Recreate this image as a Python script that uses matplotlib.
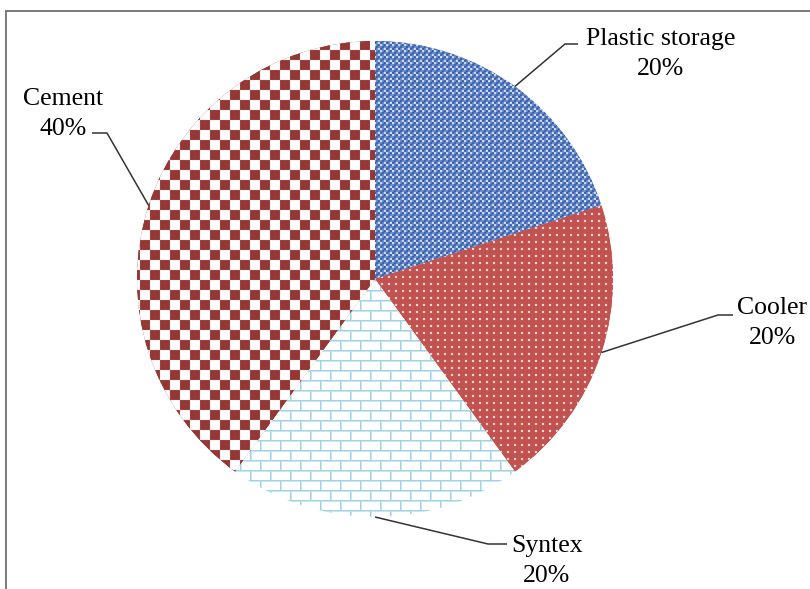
import numpy as np
import matplotlib
matplotlib.use("Agg")
import matplotlib.pyplot as plt

# Share of each product (percent), clockwise from 12 o'clock
labels = ["Plastic storage", "Cooler", "Syntex", "Cement"]
shares = [20, 20, 20, 40]

W, H = 810, 589
CX, CY, R = 375, H - 279, 238

fig = plt.figure(figsize=(W / 100, H / 100), dpi=100)
ax = fig.add_axes([0, 0, 1, 1])

base_colors = ["#6f8fc6", "#c0504d", "#ffffff", "#953735"]
wedges, _ = ax.pie(shares, startangle=90, counterclock=False,
                   center=(CX, CY), radius=R, colors=base_colors,
                   wedgeprops=dict(linewidth=0))
ax.set_xlim(0, W)
ax.set_ylim(0, H)
ax.set_aspect("equal")
ax.axis("off")

# pixel grid (row 0 at the top)
yy, xx = np.mgrid[0:H, 0:W]


def rgb(*c):
    return np.array(c, dtype=float) / 255.0


def soften(img, k=0.5):
    # light 3x3 smoothing so fine patterns look printed rather than pixelated
    p = np.pad(img, ((1, 1), (1, 1), (0, 0)), mode="edge")
    nb = (p[:-2, 1:-1] + p[2:, 1:-1] + p[1:-1, :-2] + p[1:-1, 2:]) / 4.0
    return k * img + (1 - k) * nb


def tex_plaid():
    # 3x3 motif drawn with 2px cells: W white, D dark blue, M mid blue, L deep blue
    tile = ["WDM",
            "DWM",
            "MML"]
    pal = {"W": rgb(238, 244, 255), "D": rgb(38, 78, 160),
           "M": rgb(100, 138, 202), "L": rgb(55, 90, 168)}
    t = np.array([[pal[c] for c in row] for row in tile])
    return soften(t[(yy // 2) % 3, (xx // 2) % 3], 0.6)


def tex_dots():
    img = np.empty((H, W, 3))
    img[...] = rgb(194, 82, 79)
    dots = np.isin(xx % 7, [3, 4]) & np.isin(yy % 7, [3, 4])
    img[dots] = rgb(252, 235, 235)
    return soften(img, 0.7)


def tex_brick():
    img = np.ones((H, W, 3))
    row = yy // 10
    off = (row % 2) * 10
    img[yy % 10 == 1] = rgb(200, 230, 240)
    img[((xx + off) % 20) == 1] = rgb(200, 230, 240)
    img[yy % 10 == 0] = rgb(160, 212, 226)
    img[((xx + off) % 20) == 0] = rgb(160, 212, 226)
    return img


def tex_checker():
    img = np.ones((H, W, 3))
    chk = ((xx // 10 + yy // 10) % 2) == 0
    img[chk] = rgb(149, 55, 53)
    return soften(img, 0.8)


textures = [tex_plaid(), tex_dots(), tex_brick(), tex_checker()]
for w, tex in zip(wedges, textures):
    im = ax.imshow(np.clip(tex, 0, 1), extent=(0, W, 0, H), origin="upper",
                   interpolation="nearest", zorder=2)
    im.set_clip_path(w)

# leader lines: wedge edge -> elbow -> short horizontal stub (top-down px)
elbows = [((565, 44), (578, 44)),
          ((718, 315), (733, 315)),
          ((488, 544), (507, 544)),
          ((107, 133), (92, 133))]
text_pos = [(661, 54),
            (772, 323),
            (547, 561),
            (63, 114)]

for w, lab, pct, (e1, e2), (tx, ty) in zip(wedges, labels, shares, elbows, text_pos):
    mid = np.deg2rad((w.theta1 + w.theta2) / 2)
    ex = CX + R * np.cos(mid)
    ey = CY + R * np.sin(mid)
    ax.plot([ex, e1[0], e2[0]], [ey, H - e1[1], H - e2[1]],
            color="#333333", lw=1.1, zorder=3, solid_capstyle="butt")
    ax.text(tx, H - ty, f"{lab}\n{pct}%", ha="center", va="center",
            fontfamily="Liberation Serif", fontsize=18.5,
            linespacing=1.45, color="black", zorder=4)

# outer frame (left and top edges visible)
ax.plot([5.5, 5.5, W], [0, H - 10.5, H - 10.5], color="#6e6e6e", lw=1.3,
        zorder=5, solid_joinstyle="miter")

fig.savefig("out.png", dpi=100)
